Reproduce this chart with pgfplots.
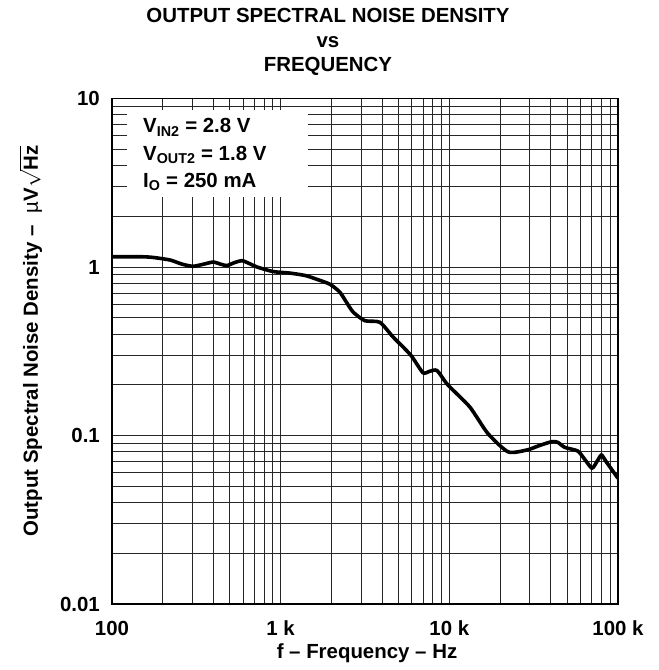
\documentclass[border=0pt]{standalone}
\usepackage{pgfplots}
\pgfplotsset{compat=1.18}
\usepackage{fontspec}
\setmainfont{Liberation Sans}
\newcommand\lab{\fontsize{20.5}{24}\selectfont\bfseries}
\begin{document}
\begin{tikzpicture}
\useasboundingbox (-112bp,-66bp) rectangle (547bp,604bp);
\begin{axis}[
 at={(0,0)}, anchor=south west,
 scale only axis, width=506bp, height=505.5bp,
 xmode=log, ymode=log,
 xmin=100, xmax=100000, ymin=0.01, ymax=10,
 xtick={100,1000,10000,100000}, xticklabels={100,1 k,10 k,100 k},
 ytick={0.01,0.1,1,10}, yticklabels={0.01,0.1,1,10},
 minor xtick={200,300,400,500,600,700,800,900,2000,3000,4000,5000,6000,7000,8000,9000,20000,30000,40000,50000,60000,70000,80000,90000},
 minor ytick={0.02,0.03,0.04,0.05,0.06,0.07,0.08,0.09,0.2,0.3,0.4,0.5,0.6,0.7,0.8,0.9,2,3,4,5,6,7,8,9},
 grid=both,
 major grid style={black!85, line width=1bp},
 minor grid style={black!85, line width=1bp},
 major tick length=0pt, minor tick length=0pt,
 axis line style={black, line width=1.8bp},
 xticklabel style={font=\lab, anchor=base, yshift=-31bp, inner sep=0pt},
 yticklabel style={font=\lab, anchor=east, inner sep=0pt, xshift=-12bp},
]
\addplot[black, line width=3.6bp, smooth, tension=0.4] coordinates {
(100,1.15) (150,1.15) (175,1.14) (221,1.10) (260,1.04) (302,1.01) (350,1.04)
(398,1.07) (440,1.04) (480,1.02) (530,1.06) (590,1.09) (650,1.05) (724,1.00)
(900,0.94) (1135,0.92) (1400,0.89) (1640,0.845) (1960,0.79) (2240,0.71)
(2450,0.62) (2690,0.54) (3160,0.48) (3870,0.47) (4630,0.385) (5400,0.33)
(6000,0.294) (6970,0.236) (7600,0.24) (8450,0.243) (9780,0.20) (13200,0.148)
(16900,0.103) (22300,0.080) (28800,0.082) (34000,0.087) (40600,0.092)
(44000,0.091) (48400,0.085) (57600,0.081) (63000,0.073) (70000,0.064)
(75000,0.070) (79800,0.0766) (85000,0.070) (100000,0.0557)
};
\fill[white] (axis cs:123,2.6) rectangle (axis cs:1452,8.55);
\node[anchor=base west, font=\lab, inner sep=0pt] at (rel axis cs:0.0613,0.9318) {V\textsubscript{IN2} = 2.8 V};
\node[anchor=base west, font=\lab, inner sep=0pt] at (rel axis cs:0.0613,0.8783) {V\textsubscript{OUT2} = 1.8 V};
\node[anchor=base west, font=\lab, inner sep=0pt] at (rel axis cs:0.0613,0.8249) {I\textsubscript{O} = 250 mA};
\end{axis}
\node[anchor=base, font=\lab, inner sep=0pt] at (216bp,581bp) {OUTPUT SPECTRAL NOISE DENSITY};
\node[anchor=base, font=\lab, inner sep=0pt] at (216bp,556bp) {vs};
\node[anchor=base, font=\lab, inner sep=0pt] at (216bp,532bp) {FREQUENCY};
\node[anchor=base, font=\lab, inner sep=0pt] at (255bp,-54bp) {f – Frequency – Hz};
\node[rotate=90, anchor=base, font=\lab, inner sep=0pt] at (-74bp,263bp) {Output Spectral Noise Density –\hspace{0.6em}{\mdseries µ}V$\sqrt{\mbox{\lab Hz}}$};
\end{tikzpicture}
\end{document}
